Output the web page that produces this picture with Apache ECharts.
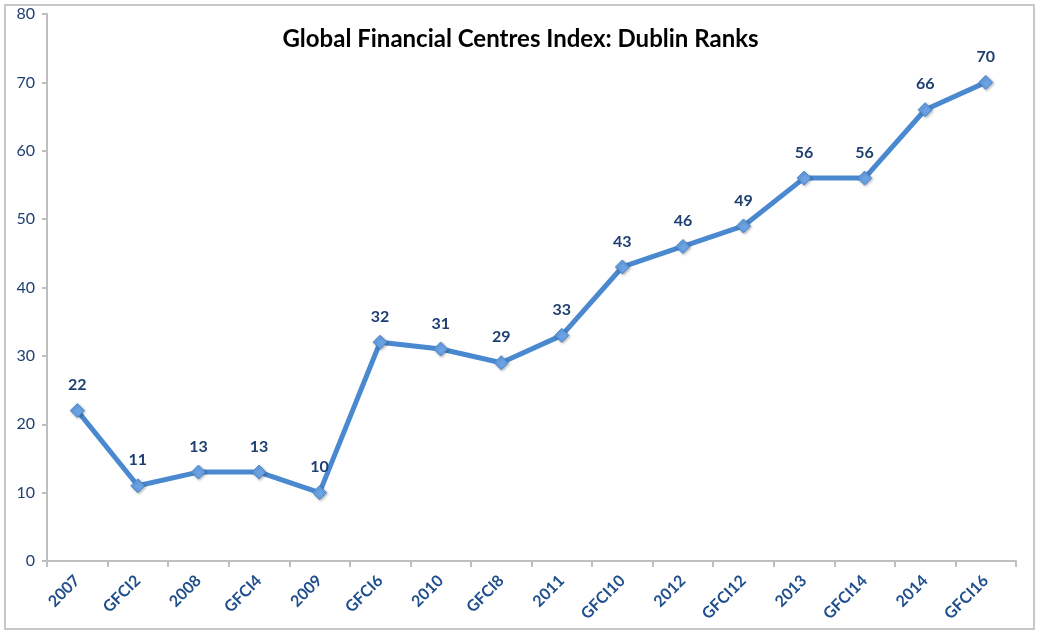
<!DOCTYPE html>
<html>
<head>
<meta charset="utf-8">
<script src="https://cdn.jsdelivr.net/npm/echarts@6/dist/echarts.min.js"></script>
<style>
  html, body { margin: 0; padding: 0; background: #fff; }
  #frame { position: absolute; left: 4px; top: 4px; width: 1031px; height: 626px; border: 2px solid #c8c8c8; box-sizing: border-box; }
  #chart { position: absolute; left: 0; top: 0; width: 1041px; height: 636px; }
</style>
</head>
<body>
<div id="frame"></div>
<div id="chart"></div>
<script>
// categories and ranks
var categories = ['2007', 'GFCI2', '2008', 'GFCI4', '2009', 'GFCI6', '2010', 'GFCI8',
  '2011', 'GFCI10', '2012', 'GFCI12', '2013', 'GFCI14', '2014', 'GFCI16'];
var ranks = [22, 11, 13, 13, 10, 32, 31, 29, 33, 43, 46, 49, 56, 56, 66, 70];

var chart = echarts.init(document.getElementById('chart'));

chart.setOption({
  animation: false,
  title: {
    text: 'Global Financial Centres Index: Dublin Ranks',
    left: 'center',
    top: 22,
    textStyle: {
      fontFamily: 'Lato',
      fontSize: 24,
      fontWeight: 'bold',
      color: '#000'
    }
  },
  grid: {
    left: 47,
    right: 25,
    top: 14,
    bottom: 75
  },
  xAxis: {
    type: 'category',
    data: categories,
    boundaryGap: true,
    axisLine: { lineStyle: { color: '#bfbfbf', width: 2 } },
    axisTick: { show: true, length: 6, lineStyle: { color: '#bfbfbf', width: 2 } },
    axisLabel: {
      interval: 0,
      rotate: 45,
      margin: 17,
      color: '#1f4e8c',
      fontFamily: 'Lato',
      fontWeight: 'bold',
      fontSize: 16
    }
  },
  yAxis: {
    type: 'value',
    min: 0,
    max: 80,
    interval: 10,
    splitLine: { show: false },
    axisLine: { show: true, lineStyle: { color: '#bfbfbf', width: 2 } },
    axisTick: { show: true, length: 5, lineStyle: { color: '#bfbfbf', width: 2 } },
    axisLabel: {
      margin: 12,
      color: '#1f3f73',
      fontFamily: 'Lato',
      fontSize: 16
    }
  },
  series: [{
    type: 'line',
    data: ranks,
    symbol: 'diamond',
    symbolSize: 14,
    lineStyle: { color: '#4a89d0', width: 5 },
    itemStyle: {
      color: '#6aa2e4',
      borderColor: '#4a89d0',
      borderWidth: 1,
      shadowColor: 'rgba(0,0,0,0.3)',
      shadowBlur: 3,
      shadowOffsetX: 1,
      shadowOffsetY: 1
    },
    label: {
      show: true,
      position: 'top',
      distance: 10,
      color: '#1f3f73',
      fontFamily: 'Lato',
      fontWeight: 'bold',
      fontSize: 16
    }
  }]
});
</script>
</body>
</html>
